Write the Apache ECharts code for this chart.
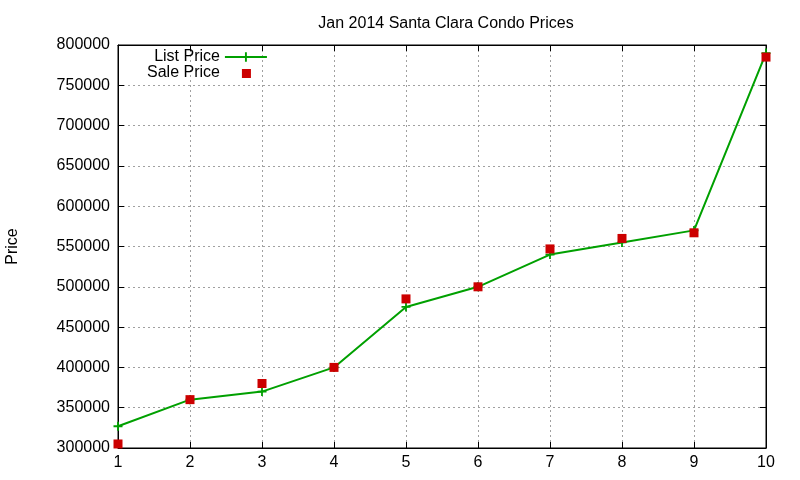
<!DOCTYPE html>
<html><head><meta charset="utf-8">
<script src="https://cdn.jsdelivr.net/npm/echarts@6/dist/echarts.min.js"></script>
<style>html,body{margin:0;padding:0;background:#fff}#c{width:800px;height:480px}</style>
</head><body><div id="c"></div>
<script>
const categories = [1, 2, 3, 4, 5, 6, 7, 8, 9, 10];
const listPrice = [327000, 360000, 370000, 400000, 475000, 500000, 540000, 555000, 570000, 790000];
const salePrice = [305000, 360000, 380000, 400000, 485000, 500000, 547000, 560000, 567000, 785000];

const chart = echarts.init(document.getElementById('c'));
const font = 'Liberation Sans, Arial, sans-serif';
const gridLine = {show: true, lineStyle: {color: '#a0a0a0', type: [2, 3], width: 1}};
const tickIn = {show: true, inside: true, length: 6, lineStyle: {color: '#000'}};
chart.setOption({
  animation: false,
  title: {text: 'Jan 2014 Santa Clara Condo Prices', left: 441, top: 11, textAlign: 'center',
    textStyle: {fontFamily: font, fontSize: 16, fontWeight: 'normal', color: '#000'}},
  grid: {left: 118, right: 34, top: 45, bottom: 32, show: true, borderColor: '#000', borderWidth: 1,
    outerBoundsMode: 'none', containLabel: false},
  legend: {left: 142, top: 44, orient: 'vertical', align: 'right', itemGap: 0, itemWidth: 42, itemHeight: 12,
    textStyle: {fontFamily: font, fontSize: 16, color: '#000'},
    data: [{name: 'List Price'},
           {name: 'Sale Price', icon: 'path://M0,0L42,0L0,0Z M0,12L42,12L0,12Z M17,2H26V11H17Z'}]},
  xAxis: [
    {type: 'value', min: 1, max: 10, interval: 1, axisLine: {show: true, lineStyle: {color: '#000'}},
     axisTick: tickIn, splitLine: gridLine,
     axisLabel: {margin: 7, fontFamily: font, fontSize: 16, color: '#000'}},
    {type: 'value', position: 'top', min: 1, max: 10, interval: 1, axisLine: {show: true, lineStyle: {color: '#000'}},
     axisTick: tickIn, splitLine: {show: false}, axisLabel: {show: false}}
  ],
  yAxis: [
    {type: 'value', min: 300000, max: 800000, interval: 50000, name: 'Price', nameLocation: 'middle', nameGap: 97,
     nameTextStyle: {fontFamily: font, fontSize: 16, color: '#000'},
     axisLine: {show: true, lineStyle: {color: '#000'}}, axisTick: tickIn, splitLine: gridLine,
     axisLabel: {margin: 8, fontFamily: font, fontSize: 16, color: '#000', formatter: v => String(v)}},
    {type: 'value', position: 'right', min: 300000, max: 800000, interval: 50000,
     axisLine: {show: true, lineStyle: {color: '#000'}}, axisTick: tickIn, splitLine: {show: false}, axisLabel: {show: false}}
  ],
  series: [
    {name: 'List Price', type: 'line', data: categories.map((c, i) => [c, listPrice[i]]),
     symbol: 'path://M4,0H6V4H10V6H6V10H4V6H0V4H4Z', symbolSize: 9, showAllSymbol: true,
     lineStyle: {color: '#00a000', width: 2}, itemStyle: {color: '#00a000'}, z: 2},
    {name: 'Sale Price', type: 'scatter', data: categories.map((c, i) => [c, salePrice[i]]),
     symbol: 'rect', symbolSize: 9, itemStyle: {color: '#cc0000', opacity: 1}, z: 3}
  ]
});
</script></body></html>
